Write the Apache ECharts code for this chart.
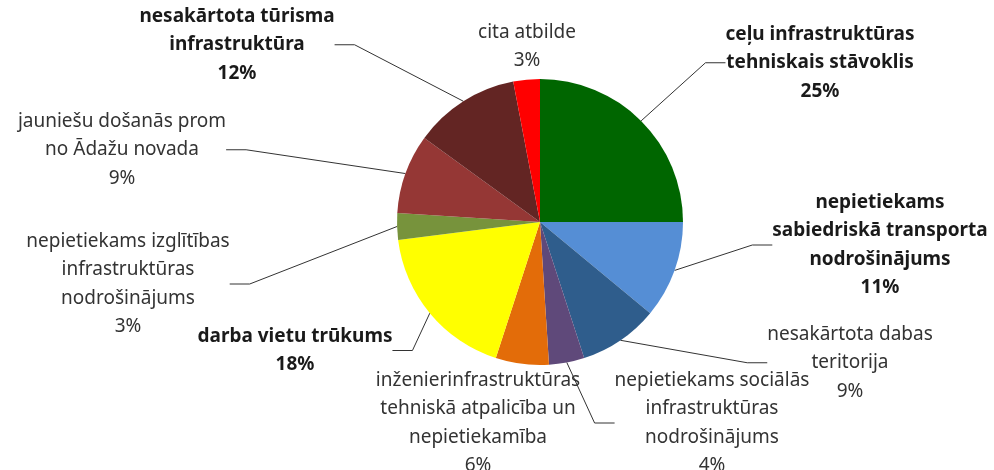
<!DOCTYPE html>
<html>
<head>
<meta charset="utf-8">
<script src="https://cdn.jsdelivr.net/npm/echarts@6/dist/echarts.min.js"></script>
<style>
  html, body { margin: 0; padding: 0; background: #fff; }
  #chart { width: 994px; height: 470px; }
</style>
</head>
<body>
<div id="chart"></div>
<script>
// kategorijas (pulksteņrādītāja virzienā no augšas)
var categories = [
    'ceļu infrastruktūras\ntehniskais stāvoklis',
    'nepietiekams\nsabiedriskā transporta\nnodrošinājums',
    'nesakārtota dabas\nteritorija',
    'nepietiekams sociālās\ninfrastruktūras\nnodrošinājums',
    'inženierinfrastruktūras\ntehniskā atpalicība un\nnepietiekamība',
    'darba vietu trūkums',
    'nepietiekams izglītības\ninfrastruktūras\nnodrošinājums',
    'jauniešu došanās prom\nno Ādažu novada',
    'nesakārtota tūrisma\ninfrastruktūra',
    'cita atbilde'
];
var values = [25, 11, 9, 4, 6, 18, 3, 9, 12, 3];
var boldLabels = [true, true, false, false, false, true, false, false, true, false];
var showLines = [true, true, true, true, false, true, true, true, true, false];

var colors = ['#006600', '#558ed5', '#2f5d8c', '#5f497a', '#e36c09',
              '#ffff00', '#77933c', '#953735', '#632523', '#ff0000'];
// etiķešu novietojums: [centrs x, augša y]
var labelPos = [
    [820, 20], [880, 188], [850, 320], [712, 366], [478, 366],
    [295, 322], [128, 227], [122, 107], [237, 2], [527, 18]
];

var data = [];
for (var i = 0; i < values.length; i++) {
    data.push({
        name: categories[i],
        value: values[i],
        itemStyle: { color: colors[i] },
        label: {
            fontWeight: boldLabels[i] ? 'bold' : 'normal',
            color: boldLabels[i] ? '#1a1a1a' : '#333'
        },
        labelLine: { show: showLines[i] }
    });
}

var myChart = echarts.init(document.getElementById('chart'));
var option = {
    backgroundColor: '#fff',
    animation: false,
    series: [{
        type: 'pie',
        center: [540, 222],
        radius: 143,
        startAngle: 90,
        clockwise: true,
        data: data,
        itemStyle: { borderWidth: 0 },
        label: {
            show: true,
            formatter: '{b}\n{d}%',
            fontFamily: 'Noto Sans',
            fontSize: 19,
            lineHeight: 28.5,
            align: 'center'
        },
        labelLine: {
            show: true,
            length: 20,
            length2: 20,
            lineStyle: { color: '#333', width: 1 }
        },
        labelLayout: function (params) {
            var p = labelPos[params.dataIndex];
            return { x: p[0], y: p[1], align: 'center', verticalAlign: 'top' };
        }
    }]
};
myChart.setOption(option);
</script>
</body>
</html>
